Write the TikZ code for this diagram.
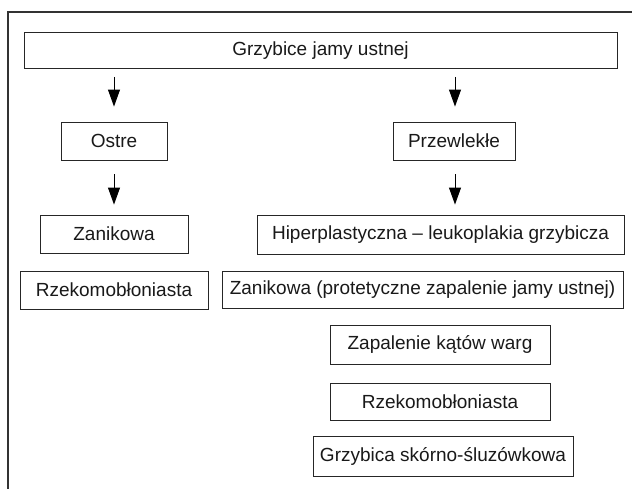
\documentclass[tikz,border=0pt]{standalone}
\usepackage{fontspec}
\setmainfont{Liberation Sans}
\usetikzlibrary{arrows.meta}
\begin{document}
\begin{tikzpicture}[x=1pt,y=-1pt,
  box/.style={draw=black!85,line width=0.9pt,inner sep=0pt,minimum height=38pt,
    font=\fontsize{19}{22}\selectfont,text=black!90},
  arr/.style={draw=black,line width=0.9pt,-{Triangle[length=17pt,width=12pt]}},
  frame/.style={draw=black!80,line width=1.1pt}]
\useasboundingbox (0,0) rectangle (632,488);
\draw[frame] (8,490) -- (8,12) -- (634,12);
\node[box,minimum width=593pt,minimum height=36pt] (main) at (320.5,50.5) {Grzybice jamy ustnej};
\node[box,minimum width=106pt] (ostre) at (114,141) {Ostre};
\node[box,minimum width=122pt] (przew) at (454,141) {Przewlekłe};
\node[box,minimum width=148pt] (zanL) at (114,234) {Zanikowa};
\node[box,minimum width=367pt,minimum height=39pt] (hiper) at (440.5,234.5) {Hiperplastyczna – leukoplakia grzybicza};
\node[box,minimum width=188pt] (rzekL) at (114,290) {Rzekomobłoniasta};
\node[box,minimum width=401pt,minimum height=37pt] (zanR) at (422.5,289.5) {Zanikowa (protetyczne zapalenie jamy ustnej)};
\node[box,minimum width=220pt,minimum height=39pt] (zap) at (440,344.5) {Zapalenie kątów warg};
\node[box,minimum width=220pt,minimum height=37pt] (rzekR) at (440,401.5) {Rzekomobłoniasta};
\node[box,minimum width=260pt,minimum height=40pt] (grzyb) at (443,456.5) {Grzybica skórno-śluzówkowa};
\draw[arr] ([yshift=-8pt]main.south -| ostre.north) -- ([yshift=15pt]ostre.north);
\draw[arr] ([yshift=-8pt,xshift=1pt]main.south -| przew.north) -- ([yshift=15pt,xshift=1pt]przew.north);
\draw[arr] ([yshift=-14pt]ostre.south) -- ([yshift=10pt]zanL.north);
\draw[arr] ([yshift=-14pt,xshift=1pt]przew.south) -- ([yshift=10pt,xshift=1pt]przew.south |- hiper.north);
\end{tikzpicture}
\end{document}
